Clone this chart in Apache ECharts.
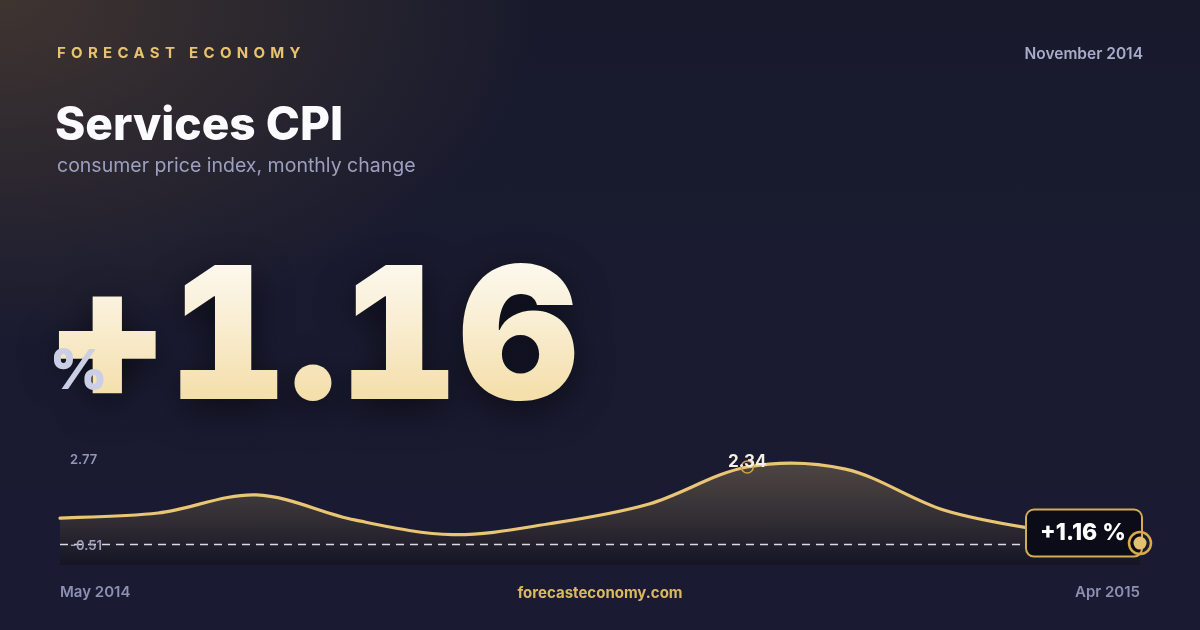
<!DOCTYPE html>
<html>
<head>
<meta charset="utf-8">
<script src="https://cdn.jsdelivr.net/npm/echarts@6/dist/echarts.min.js"></script>
<style>
  html, body { margin: 0; padding: 0; }
  body {
    width: 1200px; height: 630px; overflow: hidden; position: relative;
    font-family: Inter, "Noto Sans", sans-serif;
    background:
      radial-gradient(ellipse 720px 460px at 0% 0%, rgba(95, 74, 52, 0.55), rgba(95, 74, 52, 0) 75%),
      linear-gradient(180deg, #181a2c 0%, #1a1b33 100%);
  }
  .txt { position: absolute; white-space: nowrap; line-height: 1; }
  #brand { left: 57px; top: 45px; font-size: 15px; font-weight: 700; letter-spacing: 5.3px; color: #e6c36c; }
  #date { right: 57px; top: 46px; font-size: 15.5px; font-weight: 600; color: #a9abca; }
  #title { left: 55px; top: 100px; font-size: 46px; font-weight: 800; color: #fbfbfe; letter-spacing: 0px; }
  #sub { left: 57px; top: 156px; font-size: 19.5px; font-weight: 400; color: #9c9fc0; }
  #big {
    left: 48px; top: 240px; font-size: 184px; font-weight: 900; letter-spacing: 1.5px;
    font-feature-settings: "tnum";
    background: linear-gradient(180deg, #fdfcf8 0%, #f9eed2 45%, #f3d99c 100%);
    -webkit-background-clip: text; background-clip: text; color: transparent;
    filter: drop-shadow(0 10px 18px rgba(0, 0, 0, 0.55));
  }
  #pct { left: 50px; top: 342px; font-size: 55px; font-weight: 900; color: #cbcfe6; }
  #site { left: 0; width: 1200px; text-align: center; top: 585px; font-size: 15px; font-weight: 700; color: #dcb862; }
  #chart { position: absolute; left: 0; top: 0; width: 1200px; height: 630px; }
</style>
</head>
<body>
<div id="chart"></div>
<div class="txt" id="brand">FORECAST ECONOMY</div>
<div class="txt" id="date">November 2014</div>
<div class="txt" id="title">Services CPI</div>
<div class="txt" id="sub">consumer price index, monthly change</div>
<div class="txt" id="big">+1.16</div>
<div class="txt" id="pct">%</div>
<div class="txt" id="site">forecasteconomy.com</div>
<script>
// 数据
var months = ['May 2014', 'Jun 2014', 'Jul 2014', 'Aug 2014', 'Sep 2014', 'Oct 2014',
    'Nov 2014', 'Dec 2014', 'Jan 2015', 'Feb 2015', 'Mar 2015', 'Apr 2015'];
var values = [0.87, 1.04, 1.64, 0.81, 0.32, 0.69, 1.34, 2.57, 2.50, 1.14, 0.47, 0.04];
var rangeLabels = ['2.77', '-0.51'];
var highlightIndex = 7;
var highlightLabel = '2.34';
var lastLabel = '+1.16 %';

var yMin = -0.69;
var yMax = 2.77;

var chart = echarts.init(document.querySelector('#chart'));
var last = values.length - 1;

// 平滑曲线（Catmull-Rom），坐标都通过 api.coord 从数据换算
function renderCurve(params, api) {
    if (params.dataIndex !== 0) return;
    var pts = values.map(function (v, i) { return api.coord([i, v]); });
    var base = api.coord([0, yMin])[1];
    var d = 'M' + pts[0][0] + ' ' + pts[0][1];
    for (var i = 0; i < pts.length - 1; i++) {
        var p0 = pts[i - 1] || pts[i];
        var p1 = pts[i];
        var p2 = pts[i + 1];
        var p3 = pts[i + 2] || p2;
        var c1x = p1[0] + (p2[0] - p0[0]) / 6;
        var c1y = p1[1] + (p2[1] - p0[1]) / 6;
        var c2x = p2[0] - (p3[0] - p1[0]) / 6;
        var c2y = p2[1] - (p3[1] - p1[1]) / 6;
        d += ' C' + c1x + ' ' + c1y + ' ' + c2x + ' ' + c2y + ' ' + p2[0] + ' ' + p2[1];
    }
    var area = d + ' L' + pts[last][0] + ' ' + base + ' L' + pts[0][0] + ' ' + base + ' Z';
    return {
        type: 'group',
        children: [
            {
                type: 'path',
                shape: { pathData: area },
                style: {
                    fill: new echarts.graphic.LinearGradient(0, 0, 0, 1, [
                        { offset: 0, color: 'rgba(232,196,116,0.25)' },
                        { offset: 1, color: 'rgba(10,8,10,0.32)' }
                    ]),
                    stroke: null
                }
            },
            {
                type: 'path',
                shape: { pathData: d },
                style: { fill: null, stroke: '#e9c574', lineWidth: 3.2, lineJoin: 'round', lineCap: 'round' }
            }
        ]
    };
}

var option = {
    backgroundColor: 'transparent',
    animation: false,
    grid: { left: 60, right: 60, top: 461, bottom: 65 },
    xAxis: {
        type: 'category',
        data: months,
        boundaryGap: false,
        axisLine: { show: false },
        axisTick: { show: false },
        splitLine: { show: false },
        axisLabel: {
            interval: function (i) { return i === 0 || i === last; },
            margin: 20,
            color: '#8d90b2',
            fontSize: 15,
            fontWeight: 600,
            fontFamily: 'Inter',
            alignMinLabel: 'left',
            alignMaxLabel: 'right'
        }
    },
    yAxis: {
        type: 'value',
        min: yMin,
        max: yMax,
        show: false,
        splitLine: { show: false }
    },
    graphic: [
        {
            type: 'text', left: 70, top: 454, z: 20,
            style: { text: rangeLabels[0], fill: '#9396b6', font: '600 13px Inter' }
        },
        {
            type: 'text', left: 70, top: 540, z: 20,
            style: { text: rangeLabels[1], fill: '#9fa2c0', font: '600 13px Inter' }
        }
    ],
    series: [
        {
            type: 'custom',
            clip: false,
            silent: true,
            z: 2,
            data: values.map(function (v, i) { return [i, v]; }),
            renderItem: renderCurve
        },
        {
            // 高亮点 + 零线
            type: 'scatter',
            z: 4,
            silent: true,
            data: [[highlightIndex, values[highlightIndex]]],
            symbol: 'circle',
            symbolSize: 12,
            itemStyle: { opacity: 1, color: 'rgba(0,0,0,0)', borderColor: '#c9a24a', borderWidth: 1.6 },
            label: {
                show: true,
                formatter: highlightLabel,
                position: 'inside',
                offset: [0, -5],
                color: '#f5f0e3',
                fontSize: 17,
                fontWeight: 700,
                fontFamily: 'Inter'
            },
            markLine: {
                silent: true,
                symbol: 'none',
                label: { show: false },
                lineStyle: { color: 'rgba(240,240,248,0.9)', type: [8, 6], width: 1.4 },
                data: [{ yAxis: 0 }]
            }
        },
        {
            // 最新值标签
            type: 'scatter',
            z: 6,
            silent: true,
            data: [[last, values[last]]],
            symbol: 'circle',
            symbolSize: 24,
            itemStyle: { opacity: 1, color: 'rgba(0,0,0,0)' },
            label: {
                show: true,
                formatter: lastLabel,
                position: 'left',
                distance: -13,
                offset: [0, -10],
                color: '#ffffff',
                fontSize: 23,
                fontWeight: 800,
                fontFamily: 'Inter',
                lineHeight: 23,
                backgroundColor: '#0b0c18',
                borderColor: '#d6ac52',
                borderWidth: 2,
                borderRadius: 7,
                padding: [11, 15, 11, 13]
            }
        },
        {
            type: 'scatter',
            z: 10,
            silent: true,
            data: [[last, values[last]]],
            symbol: 'circle',
            symbolSize: 22,
            itemStyle: { opacity: 1, color: 'rgba(0,0,0,0)', borderColor: '#d9aa48', borderWidth: 2.5 }
        },
        {
            type: 'scatter',
            z: 11,
            silent: true,
            data: [[last, values[last]]],
            symbol: 'circle',
            symbolSize: 13,
            itemStyle: { opacity: 1, color: '#e4c171' }
        }
    ]
};

chart.setOption(option);

window.addEventListener('resize', function () {
    chart.resize();
});
</script>
</body>
</html>
